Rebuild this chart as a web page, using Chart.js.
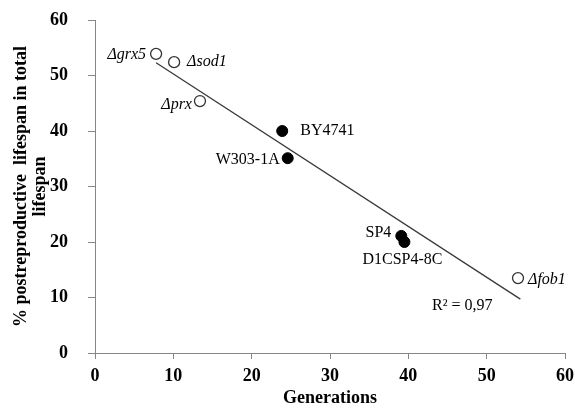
<!DOCTYPE html>
<html>
<head>
<meta charset="utf-8">
<script src="https://cdn.jsdelivr.net/npm/chart.js@4"></script>
<style>
  html, body { margin: 0; padding: 0; background: #ffffff; }
  #wrap { width: 575px; height: 416px; position: relative; }
</style>
</head>
<body>
<div id="wrap"><canvas id="c" width="575" height="416"></canvas></div>
<script>
// ---- data ----
const mutantNames = ['Δgrx5', 'Δsod1', 'Δprx', 'Δfob1'];
const mutantGenerations = [7.8, 10.1, 13.4, 54.0];
const mutantPostrepro = [53.9, 52.4, 45.4, 13.5];

const strainNames = ['BY4741', 'W303-1A', 'SP4', 'D1CSP4-8C'];
const strainGenerations = [23.9, 24.6, 39.1, 39.5];
const strainPostrepro = [40.0, 35.1, 21.1, 20.0];

const trendGenerations = [7.8, 54.3];
const trendPostrepro = [52.3, 9.7];
const rSquaredLabel = 'R² = 0,97';

const xTickValues = [0, 10, 20, 30, 40, 50, 60];
const yTickValues = [0, 10, 20, 30, 40, 50, 60];

const xTitle = 'Generations';
const yTitle = ['% postreproductive  lifespan in total', 'lifespan'];

// ---- label placement (styling only) ----
const mutantLabelStyle = [
  { dx: -10, dy: 1, align: 'right' },
  { dx: 13, dy: 0, align: 'left' },
  { dx: -8, dy: 4, align: 'right' },
  { dx: 10, dy: 2, align: 'left' }
];
const strainLabelStyle = [
  { dx: 18, dy: 0, align: 'left' },
  { dx: -8, dy: 2, align: 'right' },
  { dx: -10, dy: -3, align: 'right' },
  { dx: -2, dy: 18, align: 'center' }
];

const toPoints = (xs, ys) => xs.map((x, i) => ({ x: x, y: ys[i] }));

const SERIF = '"Liberation Serif", "Times New Roman", serif';

const pointLabels = {
  id: 'pointLabels',
  afterDatasetsDraw(chart) {
    const ctx = chart.ctx;
    const xs = chart.scales.x, ys = chart.scales.y;
    ctx.save();
    ctx.fillStyle = '#000000';
    ctx.textBaseline = 'middle';
    const drawSet = (names, gx, py, styles, italic) => {
      ctx.font = (italic ? 'italic ' : '') + '16px ' + SERIF;
      names.forEach((n, i) => {
        const s = styles[i];
        ctx.textAlign = s.align;
        ctx.fillText(n, xs.getPixelForValue(gx[i]) + s.dx, ys.getPixelForValue(py[i]) + s.dy);
      });
    };
    drawSet(mutantNames, mutantGenerations, mutantPostrepro, mutantLabelStyle, true);
    drawSet(strainNames, strainGenerations, strainPostrepro, strainLabelStyle, false);
    // R² label near the end of the trendline
    ctx.font = '16px ' + SERIF;
    ctx.textAlign = 'center';
    const ex = xs.getPixelForValue(trendGenerations[1]);
    const ey = ys.getPixelForValue(trendPostrepro[1]);
    ctx.fillText(rSquaredLabel, ex - 58, ey + 7);
    ctx.restore();
  }
};

new Chart(document.getElementById('c'), {
  type: 'scatter',
  data: {
    datasets: [
      {
        label: 'trend',
        type: 'line',
        data: toPoints(trendGenerations, trendPostrepro),
        borderColor: '#3a3a3a',
        borderWidth: 1.3,
        pointRadius: 0,
        fill: false,
        tension: 0,
        order: 3
      },
      {
        label: 'mutants',
        data: toPoints(mutantGenerations, mutantPostrepro),
        pointStyle: 'circle',
        pointRadius: 5.5,
        pointBackgroundColor: '#ffffff',
        pointBorderColor: '#333333',
        pointBorderWidth: 1.3,
        order: 1
      },
      {
        label: 'strains',
        data: toPoints(strainGenerations, strainPostrepro),
        pointStyle: 'circle',
        pointRadius: 5.5,
        pointBackgroundColor: '#000000',
        pointBorderColor: '#000000',
        pointBorderWidth: 1,
        order: 2
      }
    ]
  },
  options: {
    responsive: false,
    animation: false,
    events: [],
    layout: { padding: { left: 0, right: 10, top: 20, bottom: 0 } },
    plugins: {
      legend: { display: false },
      tooltip: { enabled: false }
    },
    scales: {
      x: {
        type: 'linear',
        min: 0, max: 60,
        afterBuildTicks: (s) => { s.ticks = xTickValues.map(v => ({ value: v })); },
        afterFit: (s) => { s.height = 63; s.paddingLeft = 0; s.paddingRight = 0; },
        grid: {
          display: true,
          drawOnChartArea: false,
          drawTicks: true,
          tickLength: 6,
          color: '#868686',
          lineWidth: 1
        },
        border: { display: true, color: '#868686', width: 1 },
        ticks: {
          color: '#000000',
          padding: 7,
          maxRotation: 0,
          font: { family: SERIF, size: 18, weight: 'bold' }
        },
        title: {
          display: true,
          text: xTitle,
          color: '#000000',
          padding: { top: 0, bottom: 9 },
          font: { family: SERIF, size: 18, weight: 'bold', lineHeight: 1.0 }
        }
      },
      y: {
        type: 'linear',
        min: 0, max: 60,
        afterBuildTicks: (s) => { s.ticks = yTickValues.map(v => ({ value: v })); },
        afterFit: (s) => { s.width = 95; s.paddingTop = 0; s.paddingBottom = 0; },
        grid: {
          display: true,
          drawOnChartArea: false,
          drawTicks: true,
          tickLength: 7,
          color: '#868686',
          lineWidth: 1
        },
        border: { display: true, color: '#868686', width: 1 },
        ticks: {
          color: '#000000',
          padding: 20,
          font: { family: SERIF, size: 18, weight: 'bold' }
        },
        title: {
          display: true,
          text: yTitle,
          color: '#000000',
          padding: { top: 11, bottom: 0 },
          font: { family: SERIF, size: 18, weight: 'bold', lineHeight: 1.1 }
        }
      }
    }
  },
  plugins: [pointLabels]
});
</script>
</body>
</html>
